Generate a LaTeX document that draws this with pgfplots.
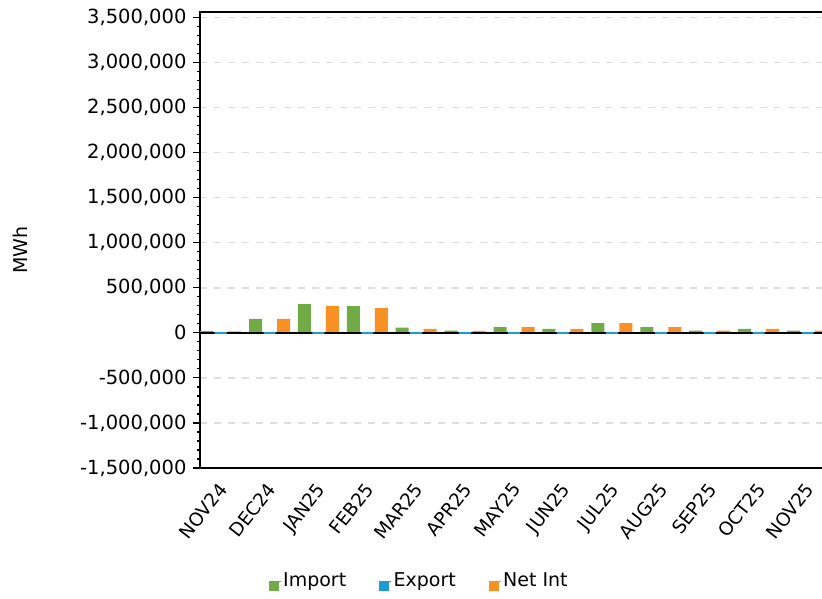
\documentclass[border=0pt]{standalone}
\usepackage{pgfplots}
\pgfplotsset{compat=1.18}
\usepackage{fontspec}
\setmainfont{DejaVu Sans}
\definecolor{impgreen}{RGB}{112,171,70}
\definecolor{expblue}{RGB}{30,155,215}
\definecolor{netorange}{RGB}{247,145,35}
\begin{document}
\fontsize{19}{22}\selectfont
\begin{tikzpicture}[x=1pt,y=1pt]
\useasboundingbox (0,0) rectangle (822,599);
\clip (0,0) rectangle (822,599);
\begin{axis}[
  at={(200pt,131pt)}, anchor=south west,
  scale only axis, width=630pt, height=456pt,
  xmin=-0.421, xmax=12.46,
  ymin=-1500000, ymax=3561000,
  ybar,
  bar width=13pt,
  xtick={0,...,12},
  xticklabels={NOV24,DEC24,JAN25,FEB25,MAR25,APR25,MAY25,JUN25,JUL25,AUG25,SEP25,OCT25,NOV25},
  major x tick style={draw=none},
  xticklabel style={xshift=-3.2pt, yshift=-6pt, rotate=52, anchor=north east, inner sep=0pt,
    font=\fontsize{18.5}{22}\selectfont},
  ytick={-1500000,-1000000,-500000,0,500000,1000000,1500000,2000000,2500000,3000000,3500000},
  minor y tick num=4,
  ytick pos=left, xtick pos=bottom,
  tick align=outside,
  major tick length=7pt, minor tick length=3pt,
  tick style={black, line width=1.2pt},
  scaled y ticks=false,
  yticklabel style={font=\fontsize{19.5}{22}\selectfont, /pgf/number format/.cd, fixed, 1000 sep={,}, assume math mode=true},
  ymajorgrids,
  major grid style={draw=black!13, line width=1.5pt, dash pattern=on 7pt off 7pt},
  axis line style={black, line width=1.5pt},
  legend style={at={(0.348,-0.248)}, anchor=center, draw=none, fill=none,
    legend columns=3, font=\fontsize{19}{22}\selectfont,
    /tikz/every even column/.append style={column sep=31pt}},
  legend image code/.code={\fill[#1] (0pt,-9pt) rectangle (9pt,-1pt); \path (0pt,0pt) -- (12pt,0pt);},
]
\addlegendimage{impgreen}\addlegendentry{Import}
\addlegendimage{expblue}\addlegendentry{Export}
\addlegendimage{netorange}\addlegendentry{Net Int}
\addplot[forget plot, fill=impgreen, draw=none, bar shift=-14pt] coordinates {
(0,18000) (1,155000) (2,318000) (3,296000) (4,58000) (5,26000) (6,63000)
(7,44000) (8,107000) (9,63000) (10,26000) (11,44000) (12,26000)};
\addplot[forget plot, fill=netorange, draw=none, bar shift=14pt] coordinates {
(0,17000) (1,155000) (2,296000) (3,274000) (4,44000) (5,22000) (6,63000)
(7,44000) (8,107000) (9,63000) (10,26000) (11,44000) (12,26000)};
\addplot[forget plot, sharp plot, black, line width=2pt] coordinates {(-1,0) (13,0)};
\addplot[forget plot, fill=expblue, draw=expblue, line width=2pt, bar width=12pt, bar shift=0pt] coordinates {
(0,0) (1,0) (2,0) (3,0) (4,0) (5,0) (6,0) (7,0) (8,0) (9,0) (10,0) (11,0) (12,0)};
\end{axis}
\node[rotate=90] at (20.5,349) {MWh};
\end{tikzpicture}
\end{document}
